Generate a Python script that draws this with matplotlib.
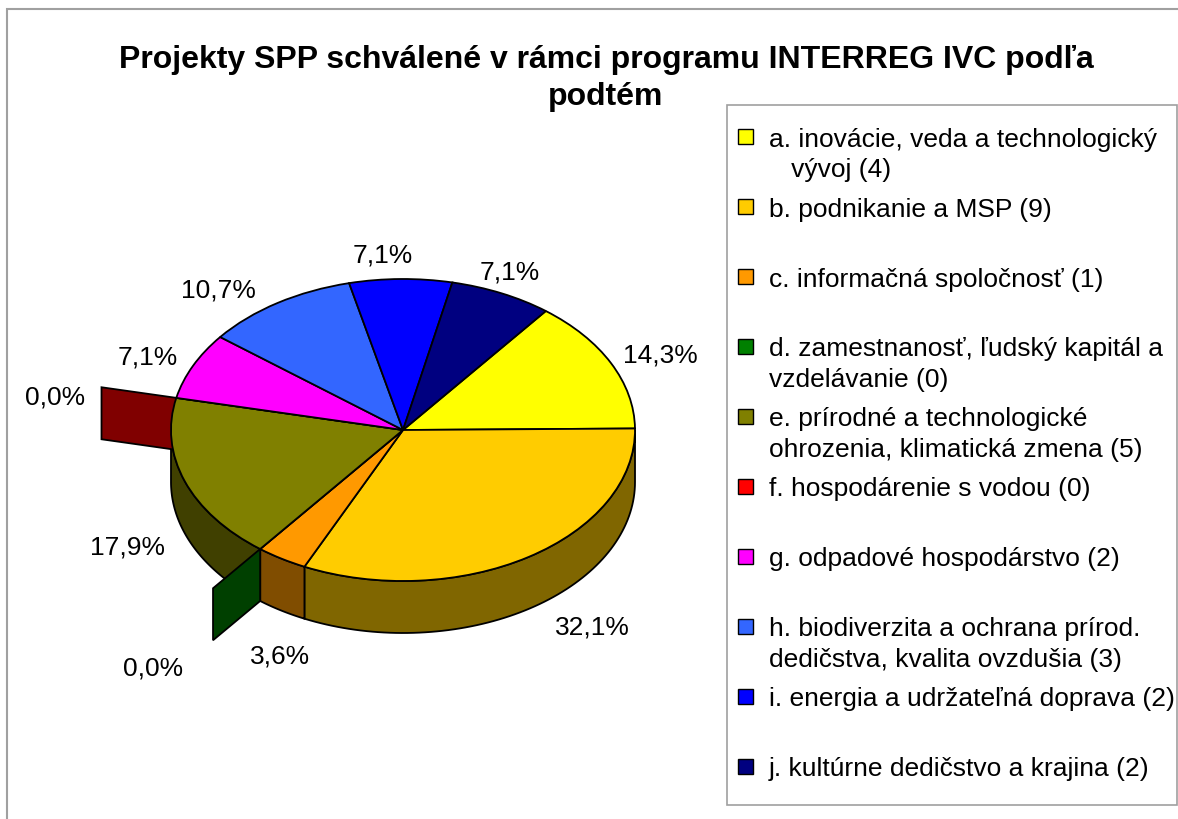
import numpy as np
import matplotlib.pyplot as plt
from matplotlib.patches import Polygon, Rectangle
from matplotlib.transforms import Affine2D
from matplotlib.colors import to_rgb

W, H = 1178, 820

title = "Projekty SPP schválené v rámci programu INTERREG IVC podľa\npodtém"
labels = [
    "a. inovácie, veda a technologický\n   vývoj (4)",
    "b. podnikanie a MSP (9)",
    "c. informačná spoločnosť (1)",
    "d. zamestnanosť, ľudský kapitál a\nvzdelávanie (0)",
    "e. prírodné a technologické\nohrozenia, klimatická zmena (5)",
    "f. hospodárenie s vodou (0)",
    "g. odpadové hospodárstvo (2)",
    "h. biodiverzita a ochrana prírod.\ndedičstva, kvalita ovzdušia (3)",
    "i. energia a udržateľná doprava (2)",
    "j. kultúrne dedičstvo a krajina (2)",
]
counts = [4, 9, 1, 0, 5, 0, 2, 3, 2, 2]
colors = ['#FFFF00', '#FFCC00', '#FF9900', '#008000', '#808000',
          '#FF0000', '#FF00FF', '#3366FF', '#0000FF', '#000080']

# tilted pie geometry in picture pixels (y grows downwards)
CX, CY = 403, 431
RX, RY = 232, 151
DEPTH = 52
START = 38        # first slice starts this many degrees clockwise from 12 o'clock
EXPLODE = 0.33    # empty slices stick out by this much of the radius
# small hand tweaks for the percentage labels (dx, dy in pixels)
label_shift = [(-3, 8), (33, -14), (29, 13), (-21, -5), (-3, 0),
               (15, 18), (7, 7), (-28, 18), (-17, 13), (-16, 12)]

plt.rcParams['font.family'] = ['Liberation Sans', 'DejaVu Sans']


def Y(y):
    return H - y


def dark(c):
    r, g, b = to_rgb(c)
    return (r * 0.5, g * 0.5, b * 0.5)


def rim(t, k=1.0, drop=0.0):
    t = np.radians(t)
    return CX + RX * k * np.cos(t), Y(CY) + RY * k * np.sin(t) - drop


fig = plt.figure(figsize=(W / 100, H / 100), dpi=100, facecolor='white')
ax = fig.add_axes([0, 0, 1, 1])

wedges, _ = ax.pie(counts, colors=colors, startangle=90 - START, counterclock=False,
                   wedgeprops=dict(edgecolor='black', linewidth=1.3))
ax.set_xlim(0, W)
ax.set_ylim(0, H)
ax.set_aspect('auto')
ax.axis('off')

squash = Affine2D().scale(RX, RY).translate(CX, Y(CY)) + ax.transData
for w in wedges:
    w.set_transform(squash)
    w.set_zorder(2)

# side walls of the front half
for w, c in zip(wedges, colors):
    t1, t2 = w.theta1, w.theta2
    for shift in (-360, 0, 360):
        lo, hi = max(t1, 180 + shift), min(t2, 360 + shift)
        if hi > lo:
            tt = np.linspace(lo, hi, 80)
            x, y = rim(tt)
            pts = np.r_[np.c_[x, y], np.c_[x[::-1], y[::-1] - DEPTH]]
            ax.add_patch(Polygon(pts, closed=True, fc=dark(c), ec='black',
                                 lw=1.3, zorder=1))

# empty slices: only their cut face shows, pulled out of the pie
for w, c, n in zip(wedges, colors, counts):
    if n == 0:
        t = w.theta1
        px, py = rim(t)
        qx, qy = rim(t, 1 + EXPLODE)
        pts = [(px, py), (qx, qy), (qx, qy - DEPTH), (px, py - DEPTH)]
        ax.add_patch(Polygon(pts, closed=True, fc=dark(c), ec='black',
                             lw=1.3, zorder=1.5))

# percentage labels
total = sum(counts)
for w, n, (dx, dy) in zip(wedges, counts, label_shift):
    mid = (w.theta1 + w.theta2) / 2
    k = 1.6 if n == 0 else 1.25
    drop = DEPTH if np.sin(np.radians(mid)) < 0 else 0
    x, y = rim(mid, k, drop)
    txt = f"{100 * n / total:.1f}%".replace('.', ',')
    ax.text(x + dx, y - dy, txt, fontsize=19, ha='center', va='center', zorder=5)

# chart frame and title
ax.add_patch(Rectangle((7, Y(830)), 1200, 820, fc='none', ec='#a0a0a0', lw=1.5, zorder=0))
for j, line in enumerate(title.split('\n')):
    ax.text(606, Y(60 + 37 * j), line, fontsize=23, fontweight='bold',
            ha='center', va='center', zorder=5)

# legend
ax.add_patch(Rectangle((727, Y(806)), 450, 700, fc='white', ec='#a0a0a0', lw=1.2, zorder=3))
for i, (lab, c) in enumerate(zip(labels, colors)):
    y0 = 137 + 70 * i
    ax.add_patch(Rectangle((738, Y(y0 + 7.5)), 15, 15, fc=c, ec='black', lw=1, zorder=4))
    for j, line in enumerate(lab.split('\n')):
        ax.text(769, Y(y0 + 9.5 + 31 * j), line, fontsize=19, ha='left',
                va='baseline', zorder=5)

fig.savefig('out.png', dpi=100)
